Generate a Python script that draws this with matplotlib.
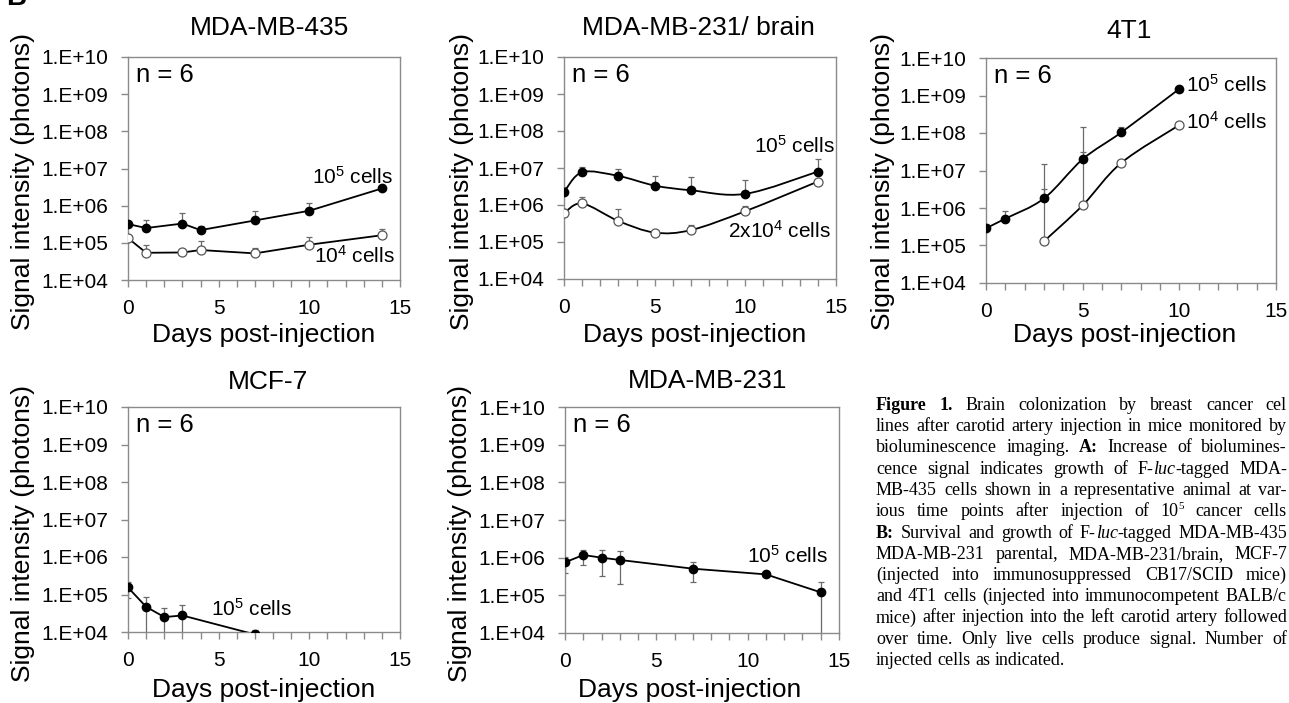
import re
import numpy as np
import matplotlib
matplotlib.use("Agg")
import matplotlib.pyplot as plt
import matplotlib.transforms as mtransforms
from matplotlib.path import Path
from matplotlib.patches import PathPatch
from matplotlib.ticker import FixedLocator, FuncFormatter, MultipleLocator, NullLocator

plt.rcParams["font.family"] = ["Liberation Sans", "DejaVu Sans"]
plt.rcParams["mathtext.fontset"] = "custom"
plt.rcParams["mathtext.rm"] = "Liberation Sans"
plt.rcParams["mathtext.it"] = "Liberation Sans:italic"
plt.rcParams["mathtext.bf"] = "Liberation Sans:bold"

# ---- data (signal in photons; "top"/"bot" = error bar ends) ----
# MDA-MB-435
days_435 = [0, 1, 3, 4, 7, 10, 14]
mb435_1e5 = [3.2e5, 2.5e5, 3.3e5, 2.2e5, 4.0e5, 7.3e5, 2.9e6]
mb435_1e5_top = [3.2e5, 4.0e5, 6.2e5, 2.9e5, 7.3e5, 1.17e6, 2.9e6]
mb435_1e4 = [1.34e5, 5.4e4, 5.5e4, 6.4e4, 5.2e4, 8.9e4, 1.6e5]
mb435_1e4_top = [1.6e5, 8.7e4, 5.5e4, 1.1e5, 7.4e4, 1.4e5, 2.3e5]

# MDA-MB-231/brain
days_brain = [0, 1, 3, 5, 7, 10, 14]
brain_1e5 = [2.2e6, 7.7e6, 6.1e6, 3.35e6, 2.5e6, 2.0e6, 8.0e6]
brain_1e5_top = [3.0e6, 1.05e7, 9.2e6, 6.1e6, 5.6e6, 4.7e6, 1.8e7]
brain_2e4 = [5.9e5, 1.1e6, 3.7e5, 1.8e5, 2.1e5, 6.8e5, 4.3e6]
brain_2e4_top = [8.0e5, 1.6e6, 7.7e5, 1.8e5, 2.85e5, 9.3e5, 4.3e6]

# 4T1
days_4t1_hi = [0, 1, 3, 5, 7, 10]
t41_1e5 = [2.9e5, 5.2e5, 1.8e6, 2.0e7, 1.04e8, 1.5e9]
t41_1e5_top = [3.7e5, 8.4e5, 3.3e6, 3.1e7, 1.44e8, 1.5e9]
days_4t1_lo = [3, 5, 7, 10]
t41_1e4 = [1.3e5, 1.18e6, 1.6e7, 1.63e8]
t41_1e4_top = [1.5e7, 1.44e8, 1.6e7, 1.63e8]

# MCF-7
days_mcf7 = [0, 1, 2, 3, 7]
mcf7_1e5 = [1.54e5, 4.7e4, 2.5e4, 2.76e4, 8.6e3]
mcf7_1e5_top = [2.2e5, 8.4e4, 4.4e4, 5.2e4, 1.15e4]
mcf7_1e5_bot = [8.0e4, 5e3, 5e3, 5e3, 5e3]

# MDA-MB-231
days_231 = [0, 1, 2, 3, 7, 11, 14]
mb231_1e5 = [7.5e5, 1.18e6, 1.0e6, 8.7e5, 5.1e5, 3.6e5, 1.2e5]
mb231_1e5_top = [1.04e6, 1.6e6, 1.6e6, 1.5e6, 7.7e5, 3.6e5, 2.26e5]
mb231_1e5_bot = [3.9e5, 6.3e5, 3.3e5, 2.0e5, 2.2e5, 3.6e5, 5e3]

# caption as visible on the page (the right margin is cropped in the source)
CAPTION = [
    "**Figure** **1.** Brain colonization by breast cancer cel",
    "lines after carotid artery injection in mice monitored by",
    "bioluminescence imaging. **A:** Increase of biolumines-",
    "cence signal indicates growth of F-_luc_-tagged MDA-",
    "MB-435 cells shown in a representative animal at var-",
    "ious time points after injection of 10^5^ cancer cells",
    "**B:** Survival and growth of F-_luc_-tagged MDA-MB-435",
    "MDA-MB-231 parental, MDA-MB-231/brain, MCF-7",
    "(injected into immunosuppressed CB17/SCID mice)",
    "and 4T1 cells (injected into immunocompetent BALB/c",
    "mice) after injection into the left carotid artery followed",
    "over time. Only live cells produce signal. Number of",
    "injected cells as indicated.",
]

W, H = 1289, 703
GRAY = "#8a8a8a"
fig = plt.figure(figsize=(W / 100, H / 100), dpi=100)


def add_panel(l, r, t, b):
    return fig.add_axes([l / W, 1 - b / H, (r - l) / W, (b - t) / H])


def style_panel(ax, title, title_xy, xlab_xy, ylab_xy):
    ax.set_yscale("log")
    ax.set_ylim(1e4, 1e10)
    ax.set_xlim(0, 15)
    ax.yaxis.set_major_locator(FixedLocator(10.0 ** np.arange(4, 11)))
    ax.yaxis.set_minor_locator(NullLocator())
    ax.yaxis.set_major_formatter(FuncFormatter(lambda v, p: "1.E+%02d" % round(np.log10(v))))
    ax.xaxis.set_major_locator(MultipleLocator(5))
    ax.xaxis.set_minor_locator(MultipleLocator(1))
    ax.tick_params(which="both", direction="out", length=5, width=1, color=GRAY,
                   labelsize=15, pad=9)
    for s in ax.spines.values():
        s.set_color(GRAY)
        s.set_linewidth(1)
    ax.text(*title_xy, title, transform=ax.transAxes, ha="center", va="center", fontsize=19)
    ax.text(*xlab_xy, "Days post-injection", transform=ax.transAxes, ha="center",
            va="center", fontsize=19)
    ax.text(*ylab_xy, "Signal intensity (photons)", transform=ax.transAxes, ha="center",
            va="center", rotation=90, fontsize=19)
    ax.text(0.028, 0.92, "n = 6", transform=ax.transAxes, ha="left", va="center", fontsize=18.5)


def smooth_line(ax, x, y):
    # Excel-like smoothed line: cubic bezier through the points (in log-y space)
    lx = np.asarray(x, float)
    ly = np.log10(y)
    n = len(lx)
    verts = [(lx[0], ly[0])]
    codes = [Path.MOVETO]
    for i in range(n - 1):
        a = max(i - 1, 0)
        d = min(i + 2, n - 1)
        c1 = (lx[i] + (lx[i + 1] - lx[a]) / 6, ly[i] + (ly[i + 1] - ly[a]) / 6)
        c2 = (lx[i + 1] - (lx[d] - lx[i]) / 6, ly[i + 1] - (ly[d] - ly[i]) / 6)
        verts += [c1, c2, (lx[i + 1], ly[i + 1])]
        codes += [Path.CURVE4] * 3
    v = np.array(verts)
    v[:, 1] = 10 ** v[:, 1]
    ax.add_patch(PathPatch(Path(v, codes), fill=False, edgecolor="black", lw=1.3, zorder=3))


def series(ax, x, y, top, bot=None, filled=True, smooth=False):
    y = np.array(y)
    top = np.array(top)
    bot = y if bot is None else np.array(bot)
    ax.errorbar(x, y, yerr=[y - bot, top - y], fmt="none", ecolor="#6a6a6a",
                elinewidth=0.9, capsize=2.5, capthick=0.9, zorder=2)
    if smooth:
        smooth_line(ax, x, y)
    else:
        ax.plot(x, y, "-", color="black", lw=1.3, zorder=3)
    if filled:
        ax.plot(x, y, "o", ms=6, mfc="black", mec="black", zorder=4)
    else:
        ax.plot(x, y, "o", ms=6.5, mfc="white", mec="#555555", mew=0.9, zorder=4)


def label(ax, x, y, s, ha="center"):
    ax.text(x, y, s, ha=ha, va="center", fontsize=15)


# ---- top row ----
ax1 = add_panel(128, 400, 57, 280)
style_panel(ax1, "MDA-MB-435", (0.52, 1.13), (0.497, -0.247), (-0.386, 0.44))
series(ax1, days_435, mb435_1e5, mb435_1e5_top)
series(ax1, days_435, mb435_1e4, mb435_1e4_top, filled=False)
label(ax1, 12.4, 6e6, r"10$^5$ cells")
label(ax1, 12.5, 4.4e4, r"10$^4$ cells")

ax2 = add_panel(564, 836, 57, 279)
style_panel(ax2, "MDA-MB-231/ brain", (0.493, 1.13), (0.482, -0.252), (-0.375, 0.437))
series(ax2, days_brain, brain_1e5, brain_1e5_top, smooth=True)
series(ax2, days_brain, brain_2e4, brain_2e4_top, filled=False, smooth=True)
label(ax2, 12.7, 3.9e7, r"10$^5$ cells")
label(ax2, 11.9, 2.0e5, r"2x10$^4$ cells")

ax3 = add_panel(986, 1276, 58, 283)
style_panel(ax3, "4T1", (0.493, 1.12), (0.479, -0.231), (-0.355, 0.449))
series(ax3, days_4t1_hi, t41_1e5, t41_1e5_top, smooth=True)
series(ax3, days_4t1_lo, t41_1e4, t41_1e4_top, filled=False, smooth=True)
label(ax3, 10.35, 1.9e9, r"10$^5$ cells", ha="left")
label(ax3, 10.35, 2.0e8, r"10$^4$ cells", ha="left")

# ---- bottom row ----
ax4 = add_panel(128, 400, 407, 632)
style_panel(ax4, "MCF-7", (0.515, 1.111), (0.497, -0.258), (-0.386, 0.44))
series(ax4, days_mcf7, mcf7_1e5, mcf7_1e5_top, mcf7_1e5_bot)
label(ax4, 6.8, 4.1e4, r"10$^5$ cells")

ax5 = add_panel(565, 839, 407, 633)
style_panel(ax5, "MDA-MB-231", (0.522, 1.115), (0.456, -0.252), (-0.383, 0.442))
series(ax5, days_231, mb231_1e5, mb231_1e5_top, mb231_1e5_bot)
label(ax5, 12.2, 1.15e6, r"10$^5$ cells")

# panel letter, mostly cut off at the top edge like the source page
fig.text(6 / W, 1 - 5 / H, "B", fontsize=20, weight="bold", va="baseline")

# ---- caption (justified to the cropped right edge) ----
renderer = fig.canvas.get_renderer()
ident = mtransforms.IdentityTransform()
cap_size = 13
x0, x_right = 876, 1287
space = 0.25 * cap_size * 100 / 72
for i, line in enumerate(CAPTION):
    base = H - (405 + 21.25 * i + 5)
    words = []
    for w in line.split(" "):
        parts = []
        for seg in re.split(r"(\*\*.+?\*\*|_.+?_|\^.+?\^)", w):
            if not seg:
                continue
            if seg.startswith("**"):
                parts.append((seg[2:-2], "b"))
            elif seg.startswith("_"):
                parts.append((seg[1:-1], "i"))
            elif seg.startswith("^"):
                parts.append((seg[1:-1], "s"))
            else:
                parts.append((seg, "n"))
        objs = []
        off = 0
        for txt, st in parts:
            t = fig.text(0, 0, txt, transform=ident, family="Liberation Serif",
                         fontsize=cap_size * (0.62 if st == "s" else 1),
                         weight="bold" if st == "b" else "normal",
                         style="italic" if st == "i" else "normal", va="baseline")
            objs.append((t, off, st))
            off += t.get_window_extent(renderer).width
        words.append((objs, off))
    total = sum(w for _, w in words)
    if i == len(CAPTION) - 1:
        gap = space
    else:
        gap = max((x_right - x0 - total) / (len(words) - 1), 0.6 * space)
    x = x0
    for objs, ww in words:
        for t, off, st in objs:
            t.set_position((x + off, base + (7 if st == "s" else 0)))
        x += ww + gap

fig.savefig("out.png", dpi=100)
